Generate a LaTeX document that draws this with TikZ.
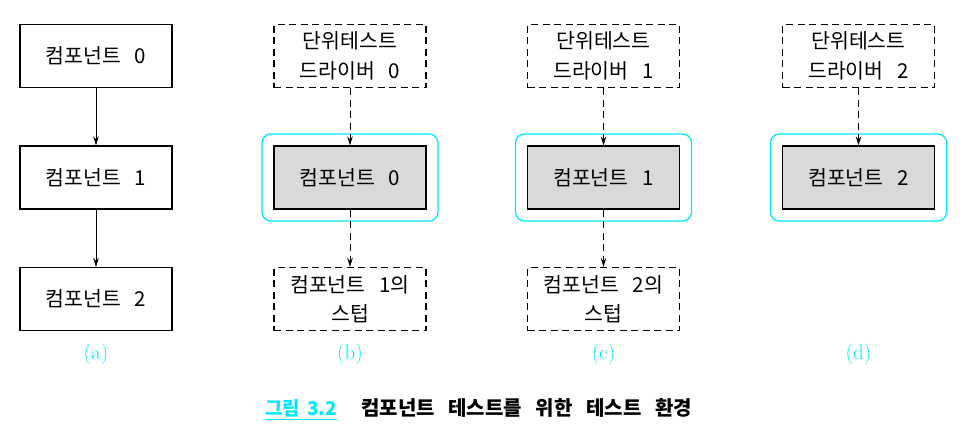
\documentclass[tikz,border=0pt]{standalone}
\usepackage{fontspec}
\newfontfamily\kr[WordSpace=2.1]{Noto Sans CJK KR}
\newfontfamily\krcap[WordSpace=3]{Noto Sans CJK KR}
\usetikzlibrary{arrows.meta,fit,positioning}
\definecolor{cy}{RGB}{0,232,255}
\definecolor{boxgray}{RGB}{217,217,217}
\tikzset{
  comp/.style={draw, line width=1.1pt, minimum width=152pt, minimum height=63pt, inner sep=0pt, font=\kr\fontsize{20.5}{29.5}\selectfont, align=center},
  dbox/.style={comp, dash pattern=on 7pt off 4.5pt},
  gbox/.style={comp, fill=boxgray},
  frame/.style={draw=cy, line width=1.3pt, rounded corners=9pt, inner sep=11.5pt},
  solidarr/.style={line width=1pt, -{Stealth[length=9pt,width=5.5pt]}},
  dasharr/.style={line width=1pt, dash pattern=on 7pt off 4.5pt, -{Stealth[length=9pt,width=5.5pt]}},
  sublab/.style={text=cy, font=\fontsize{21}{24}\selectfont}
}
\begin{document}
\begin{tikzpicture}[x=1pt,y=-1pt]
\useasboundingbox (0,0) rectangle (973,434);
% (a)
\node[comp] (a0) at (96,56) {컴포넌트 0};
\node[comp] (a1) at (96,177.5) {컴포넌트 1};
\node[comp] (a2) at (96,299) {컴포넌트 2};
\draw[solidarr] (a0) -- (a1);
\draw[solidarr] (a1) -- (a2);
\node[sublab] (la) at (96,354) {(a)};
% (b)
\node[dbox] (bd) at (350,56) {단위테스트\\드라이버 0};
\node[gbox] (bc) at (350,177.5) {컴포넌트 0};
\node[dbox] (bs) at (350,299) {컴포넌트 1의\\스텁};
\node[frame, fit=(bc)] (bf) {};
\draw[dasharr] (bd) -- (bc);
\draw[dasharr] (bc) -- (bs);
\node[sublab] (lb) at (350,354) {(b)};
% (c)
\node[dbox] (cd) at (603.5,56) {단위테스트\\드라이버 1};
\node[gbox] (cc) at (603.5,177.5) {컴포넌트 1};
\node[dbox] (cs) at (603.5,299) {컴포넌트 2의\\스텁};
\node[frame, fit=(cc)] (cf) {};
\draw[dasharr] (cd) -- (cc);
\draw[dasharr] (cc) -- (cs);
\node[sublab] (lc) at (603.5,354) {(c)};
% (d)
\node[dbox] (dd) at (858.5,56) {단위테스트\\드라이버 2};
\node[gbox] (dc) at (858.5,177.5) {컴포넌트 2};
\node[frame, fit=(dc)] (df) {};
\draw[dasharr] (dd) -- (dc);
\node[sublab] (ld) at (858.5,354) {(d)};
% caption
\node[anchor=west, inner sep=0pt, text=cy, font=\kr\bfseries\fontsize{19}{22}\selectfont] (capn) at (265,408) {그림\hspace{7pt}3.2};
\draw[cy, line width=1pt] ([yshift=-2pt]capn.south west) -- ([yshift=-2pt]capn.south east);
\node[anchor=west, inner sep=0pt, font=\krcap\bfseries\fontsize{20}{22}\selectfont] (capt) at (361,408) {컴포넌트 테스트를 위한 테스트 환경};
\end{tikzpicture}
\end{document}
